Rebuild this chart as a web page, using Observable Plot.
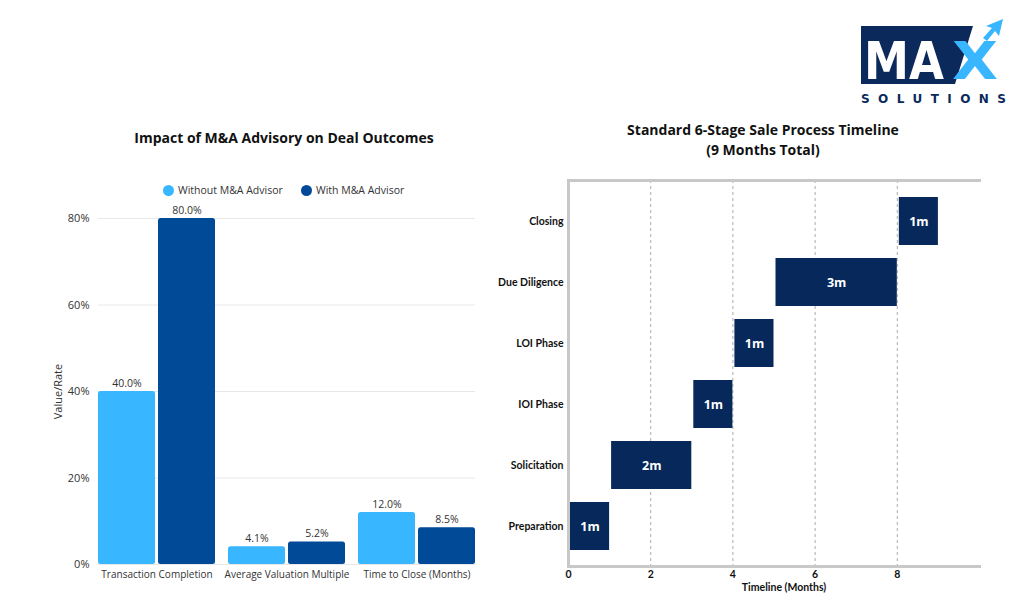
<!DOCTYPE html>
<html>
<head>
<meta charset="utf-8">
<script src="https://cdn.jsdelivr.net/npm/d3@7"></script>
<script src="https://cdn.jsdelivr.net/npm/@observablehq/plot@0.6"></script>
<style>
  html, body { margin: 0; padding: 0; background: #fff; }
  #page { position: relative; width: 1024px; height: 599px; overflow: hidden; font-family: "Open Sans", sans-serif; }
  .abs { position: absolute; }
  .title { font-weight: 700; font-size: 14px; color: #111; text-align: center; line-height: 20px; font-family: "Open Sans", sans-serif; }
  .leg { font-size: 10.5px; color: #333; white-space: nowrap; line-height: 12px; }
  .dot { width: 11px; height: 11px; border-radius: 50%; }
</style>
</head>
<body>
<div id="page">
  <div id="left" class="abs" style="left:0;top:0"></div>
  <div id="right" class="abs" style="left:480px;top:0"></div>
  <div class="abs title" style="left:84px;top:128px;width:400px">Impact of M&amp;A Advisory on Deal Outcomes</div>
  <div class="abs title" style="left:563px;top:120px;width:400px">Standard 6-Stage Sale Process Timeline<br>(9 Months Total)</div>
  <div id="legend"></div>
  <svg class="abs" style="left:850px;top:10px" width="174" height="100" viewBox="850 10 174 100">
    <polygon points="861,26 973,26 955,84 861,84" fill="#0b2a5b"/>
    <polygon points="983,38 992,28 986,26 1003,19 999,36 995,31 987,41" fill="#38b6ff"/>
    <text x="864" y="79" font-family="DejaVu Sans" font-weight="900" font-size="52" fill="#fff" textLength="80" lengthAdjust="spacingAndGlyphs">MA</text>
    <text x="952" y="79" font-family="DejaVu Sans" font-weight="900" font-size="52" fill="#38b6ff" textLength="46" lengthAdjust="spacingAndGlyphs">X</text>
    <text x="861" y="103" font-family="DejaVu Sans" font-weight="700" font-size="12" fill="#0b2a5b" textLength="145" lengthAdjust="spacing">SOLUTIONS</text>
  </svg>
</div>
<script>
// ---- Left chart data ----
const categories = ["Transaction Completion", "Average Valuation Multiple", "Time to Close (Months)"];
const seriesNames = ["Without M&A Advisor", "With M&A Advisor"];
const withoutValues = [40.0, 4.1, 12.0];
const withValues = [80.0, 5.2, 8.5];
const yTicks = [0, 20, 40, 60, 80];
const seriesColors = ["#38b6ff", "#004a97"];

// ---- Right chart data ----
const stages = ["Preparation", "Solicitation", "IOI Phase", "LOI Phase", "Due Diligence", "Closing"];
const stageStart = [0, 1, 3, 4, 5, 8];
const stageDuration = [1, 2, 1, 1, 3, 1];
const timelineTicks = [0, 2, 4, 6, 8];
const gridTicks = [2, 4, 6, 8];

// Build tables
const barData = [];
categories.forEach((c, i) => {
  barData.push({category: c, series: seriesNames[0], value: withoutValues[i]});
  barData.push({category: c, series: seriesNames[1], value: withValues[i]});
});
// grid rows per facet (first facets extend across the gap to the next facet)
const gridInner = [];
const gridLast = [];
categories.forEach((c, i) => {
  yTicks.forEach(t => (i < categories.length - 1 ? gridInner : gridLast).push({category: c, v: t}));
});
const stageData = stages.map((s, i) => ({stage: s, start: stageStart[i], end: stageStart[i] + stageDuration[i], dur: stageDuration[i]}));

// Legend
const legend = document.getElementById("legend");
const legendPos = [[163, 178], [301, 316]];
seriesNames.forEach((s, i) => {
  const d = document.createElement("div");
  d.className = "abs dot";
  d.style.left = legendPos[i][0] + "px"; d.style.top = "184.5px"; d.style.background = seriesColors[i];
  legend.appendChild(d);
  const t = document.createElement("div");
  t.className = "abs leg";
  t.style.left = legendPos[i][1] + "px"; t.style.top = "184px";
  t.textContent = s;
  legend.appendChild(t);
});

const left = Plot.plot({
  width: 500,
  height: 599,
  marginLeft: 98,
  marginRight: 25,
  marginTop: 218,
  marginBottom: 35,
  style: {fontFamily: "Open Sans, sans-serif", fontSize: "11px", color: "#333", background: "transparent", overflow: "visible"},
  fx: {domain: categories, paddingInner: 0.1, paddingOuter: 0, label: null},
  x: {domain: seriesNames, paddingInner: 0.05, paddingOuter: 0, axis: null},
  y: {domain: [0, 80]},
  color: {domain: seriesNames, range: seriesColors},
  marks: [
    Plot.ruleY(gridInner, {fx: "category", y: "v", stroke: "#e8e8e8", strokeWidth: 1, insetRight: -13}),
    Plot.ruleY(gridLast, {fx: "category", y: "v", stroke: "#e8e8e8", strokeWidth: 1}),
    Plot.axisFx({anchor: "bottom", tickSize: 0, tickPadding: 6, fontSize: 10, label: null}),
    Plot.axisY(yTicks, {tickSize: 0, tickPadding: 9, tickFormat: d => d + "%", label: "Value/Rate", labelAnchor: "center", labelArrow: "none", labelOffset: 44}),
    Plot.barY(barData, {fx: "category", x: "series", y: "value", fill: "series", rx: 2.5}),
    Plot.text(barData, {fx: "category", x: "series", y: "value", text: d => d.value.toFixed(1) + "%", dy: -8, fontSize: 10.5, fill: "#333"})
  ]
});
document.getElementById("left").appendChild(left);

const right = Plot.plot({
  width: 544,
  height: 599,
  marginLeft: 88,
  marginRight: 45,
  marginTop: 180,
  marginBottom: 33,
  style: {fontFamily: "Lato, sans-serif", fontSize: "10.5px", color: "#111", background: "transparent", overflow: "visible"},
  x: {domain: [0, 10]},
  y: {domain: stages.slice().reverse(), paddingInner: 0.214, paddingOuter: 0.236},
  marks: [
    Plot.gridX(gridTicks, {stroke: "#aaa", strokeOpacity: 1, strokeDasharray: "3,3"}),
    Plot.frame({anchor: "top", stroke: "#c8c8c8", strokeWidth: 3}),
    Plot.frame({anchor: "bottom", stroke: "#c8c8c8", strokeWidth: 3}),
    Plot.frame({anchor: "left", stroke: "#c8c8c8", strokeWidth: 3}),
    Plot.axisX(timelineTicks, {tickSize: 0, tickPadding: 4, fontWeight: "bold", label: null}),
    Plot.axisY({tickSize: 0, tickPadding: 5, fontWeight: "bold", label: null}),
    Plot.barX(stageData, {x1: "start", x2: "end", y: "stage", fill: "#06285a", insetLeft: 2}),
    Plot.text(stageData, {x: d => (d.start + d.end) / 2, y: "stage", text: d => d.dur + "m", dx: 1, fill: "#fff", fontWeight: "bold", fontSize: 12.5, fontFamily: "Open Sans, sans-serif"}),
    Plot.text(["Timeline (Months)"], {frameAnchor: "bottom", dy: 24, dx: 10, fontWeight: "bold", fontSize: 10.5})
  ]
});
document.getElementById("right").appendChild(right);
</script>
</body>
</html>
